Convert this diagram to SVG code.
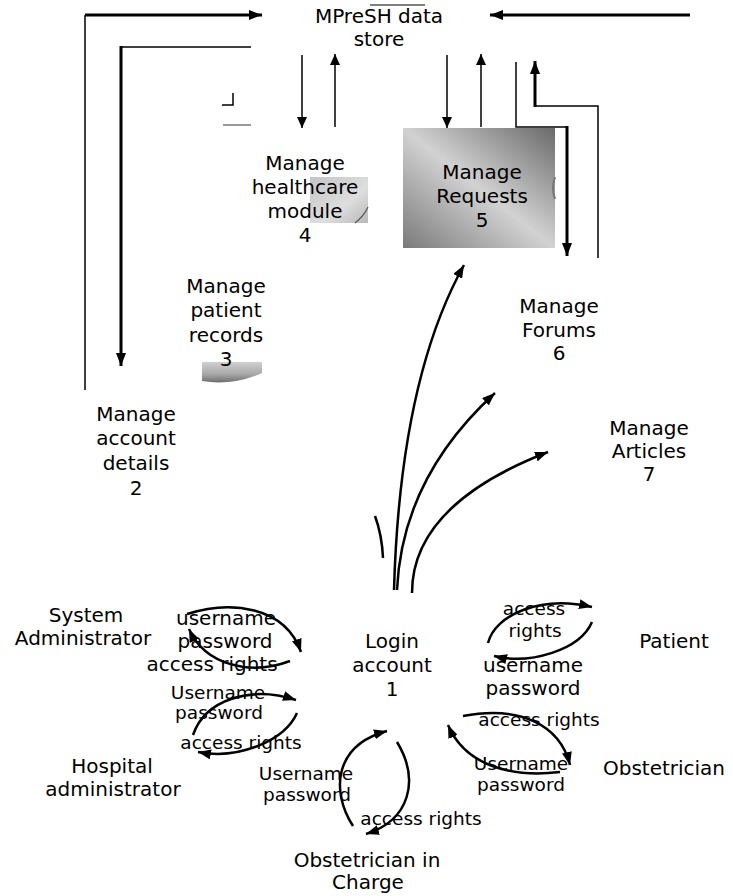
<svg xmlns="http://www.w3.org/2000/svg" width="733" height="896" viewBox="0 0 733 896">
<defs>
<style>
text{font-family:"DejaVu Sans","Liberation Sans",sans-serif;fill:#000;text-anchor:middle}
.t20{font-size:20px}
.t18{font-size:18.5px}
.thin{stroke:#000;stroke-width:1.5;fill:none}
.thick{stroke:#000;stroke-width:3;fill:none}
.curve{stroke:#000;stroke-width:2.5;fill:none}
</style>
<marker id="ah" markerUnits="userSpaceOnUse" markerWidth="14" markerHeight="10" refX="13" refY="5" orient="auto"><path d="M0,0 L13,5 L0,10 z" fill="#000"/></marker>
<marker id="ahs" markerUnits="userSpaceOnUse" markerWidth="12" markerHeight="10" refX="11" refY="5" orient="auto"><path d="M0,0 L11,5 L0,10 z" fill="#000"/></marker>
<linearGradient id="g5" x1="1" y1="0" x2="0" y2="1"><stop offset="0" stop-color="#6a6a6a"/><stop offset="0.5" stop-color="#d2d2d2"/><stop offset="1" stop-color="#7a7a7a"/></linearGradient>
<linearGradient id="g4" x1="0" y1="0" x2="1" y2="1"><stop offset="0" stop-color="#c4c4c4"/><stop offset="0.6" stop-color="#dedede"/><stop offset="1" stop-color="#b8b8b8"/></linearGradient>
<linearGradient id="g3" x1="0" y1="0" x2="0" y2="1"><stop offset="0" stop-color="#d0d0d0"/><stop offset="0.6" stop-color="#a8a8a8"/><stop offset="1" stop-color="#6e6e6e"/></linearGradient>
</defs>

<g id="connectors">
<polyline class="thin" points="85,390 85,15"/>
<line class="thick" x1="85" y1="15" x2="262" y2="15" marker-end="url(#ah)"/>
<line class="thin" x1="251" y1="47" x2="121" y2="47"/>
<line class="thick" x1="121" y1="46" x2="121" y2="366" marker-end="url(#ah)"/>
<line class="thick" x1="690" y1="15" x2="490" y2="15" marker-end="url(#ah)"/>
<polyline class="thin" points="222,105 233,105 233,93"/>
<line x1="223" y1="125" x2="251" y2="125" stroke="#777" stroke-width="1.5"/>
<line class="thin" x1="302" y1="55" x2="302" y2="128" marker-end="url(#ahs)"/>
<line class="thin" x1="335" y1="127" x2="335" y2="54" marker-end="url(#ahs)"/>
<line class="thin" x1="447" y1="55" x2="447" y2="128" marker-end="url(#ahs)"/>
<line class="thin" x1="481" y1="127" x2="481" y2="54" marker-end="url(#ahs)"/>
<polyline class="thin" points="516,62 516,127 567,127"/>
<line class="thick" x1="567" y1="126" x2="567" y2="256" marker-end="url(#ah)"/>
<polyline class="thin" points="598,258 598,106 535,106"/>
<line class="thick" x1="535" y1="107" x2="535" y2="61" marker-end="url(#ah)"/>
<path class="curve" d="M394,590 Q400,380 464,265" marker-end="url(#ah)"/>
<path class="curve" d="M397,590 Q402,478 495,393" marker-end="url(#ah)"/>
<path class="curve" d="M412,593 C412,540 450,490 548,452" marker-end="url(#ah)"/>
<path class="curve" d="M375,516 Q382,535 383,558"/>
<path class="curve" d="M187,614 C230,600 285,606 301,652" marker-end="url(#ah)"/>
<path class="curve" d="M290,661 C250,676 205,665 189,629" marker-end="url(#ah)"/>
<path class="curve" d="M193,735 C205,700 250,685 296,700" marker-end="url(#ah)"/>
<path class="curve" d="M297,713 C285,740 240,760 198,752" marker-end="url(#ah)"/>
<path class="curve" d="M488,643 C495,615 540,595 592,607" marker-end="url(#ah)"/>
<path class="curve" d="M592,622 C580,650 530,665 494,656" marker-end="url(#ah)"/>
<path class="curve" d="M463,716 C520,705 560,725 570,765" marker-end="url(#ah)"/>
<path class="curve" d="M560,772 C510,778 465,765 448,725" marker-end="url(#ah)"/>
<path class="curve" d="M353,826 C330,790 335,745 387,731" marker-end="url(#ah)"/>
<path class="curve" d="M397,742 C420,780 410,820 366,834" marker-end="url(#ah)"/>
</g>

<g id="flow-labels">
<text class="t20" x="226" y="625">username</text>
<text class="t20" x="225" y="648">password</text>
<text class="t20" x="212" y="671">access rights</text>
<text class="t18" x="218" y="699">Username</text>
<text class="t18" x="219" y="719">password</text>
<text class="t18" x="241" y="749">access rights</text>
<text class="t18" x="534" y="615">access</text>
<text class="t18" x="535" y="637">rights</text>
<text class="t20" x="533" y="672">username</text>
<text class="t20" x="533" y="695">password</text>
<text class="t18" x="539" y="726">access rights</text>
<text class="t18" x="521" y="770">Username</text>
<text class="t18" x="521" y="791">password</text>
<text class="t18" x="306" y="780">Username</text>
<text class="t18" x="307" y="801">password</text>
<text class="t18" x="421" y="825">access rights</text>
</g>

<g id="datastore">
<line x1="370" y1="5" x2="425" y2="5" stroke="#000" stroke-width="1"/>
<text class="t20" x="379" y="23">MPreSH data</text>
<text class="t20" x="379" y="46">store</text>
</g>

<g id="p4">
<rect x="310" y="177" width="58" height="46" fill="url(#g4)"/>
<path d="M355,223 Q364,216 368,207" stroke="#555" stroke-width="1.2" fill="none"/>
<text class="t20" x="305" y="170">Manage</text>
<text class="t20" x="305" y="194">healthcare</text>
<text class="t20" x="305" y="218">module</text>
<text class="t20" x="305" y="242">4</text>
</g>

<g id="p5">
<rect x="403" y="128" width="152" height="120" fill="url(#g5)"/>
<path d="M555,177 Q551,188 555,199" stroke="#777" stroke-width="2" fill="none"/>
<text class="t20" x="482" y="179">Manage</text>
<text class="t20" x="482" y="203">Requests</text>
<text class="t20" x="482" y="227">5</text>
</g>

<g id="p3">
<path d="M202,362 H262 V373 Q232,386 202,381 Z" fill="url(#g3)"/>
<text class="t20" x="226" y="293">Manage</text>
<text class="t20" x="226" y="317">patient</text>
<text class="t20" x="226" y="342">records</text>
<text class="t20" x="226" y="366">3</text>
</g>

<g id="p2">
<text class="t20" x="136" y="421">Manage</text>
<text class="t20" x="136" y="445">account</text>
<text class="t20" x="136" y="470">details</text>
<text class="t20" x="136" y="495">2</text>
</g>

<g id="p6">
<text class="t20" x="559" y="313">Manage</text>
<text class="t20" x="559" y="337">Forums</text>
<text class="t20" x="559" y="360">6</text>
</g>

<g id="p7">
<text class="t20" x="649" y="435">Manage</text>
<text class="t20" x="649" y="458">Articles</text>
<text class="t20" x="649" y="481">7</text>
</g>

<g id="p1">
<text class="t20" x="392" y="648">Login</text>
<text class="t20" x="392" y="672">account</text>
<text class="t20" x="392" y="696">1</text>
</g>

<g id="system-administrator">
<text class="t20" x="86" y="622">System</text>
<text class="t20" x="83" y="645">Administrator</text>
</g>

<g id="hospital-administrator">
<text class="t20" x="112" y="773">Hospital</text>
<text class="t20" x="113" y="796">administrator</text>
</g>

<g id="patient">
<text class="t20" x="674" y="648">Patient</text>
</g>

<g id="obstetrician">
<text class="t20" x="664" y="775">Obstetrician</text>
</g>

<g id="obstetrician-in-charge">
<text class="t20" x="367" y="867">Obstetrician in</text>
<text class="t20" x="368" y="889">Charge</text>
</g>
</svg>
